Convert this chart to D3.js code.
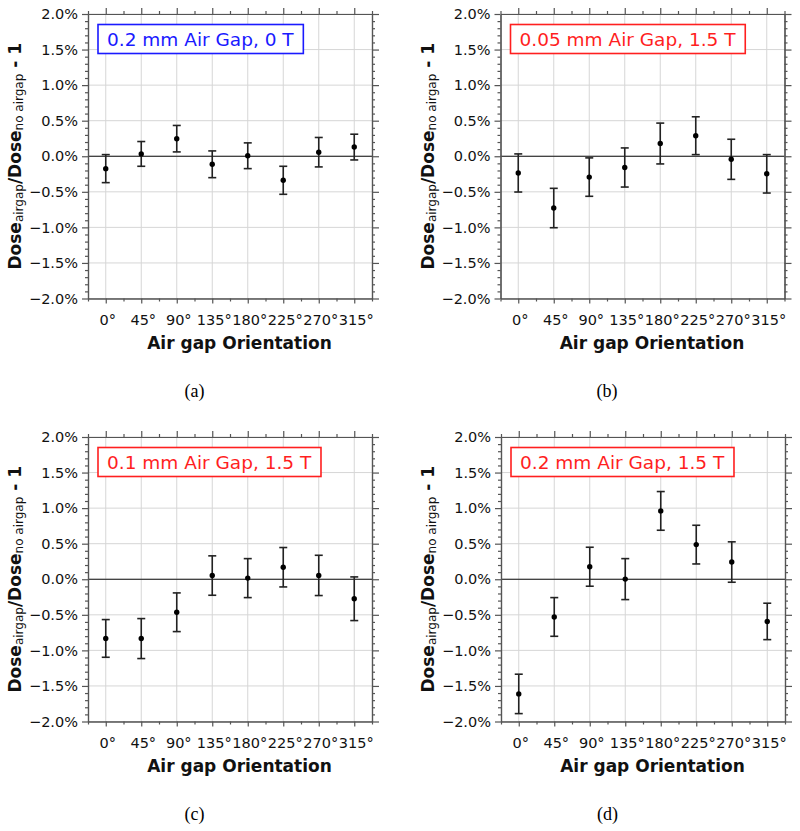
<!DOCTYPE html>
<html>
<head>
<meta charset="utf-8">
<script src="https://cdn.jsdelivr.net/npm/d3@7/dist/d3.min.js"></script>
<style>
  html, body { margin: 0; padding: 0; background: #fff; }
  svg { display: block; }
</style>
</head>
<body>
<svg id="chart" width="800" height="831"></svg>
<script>
// ---------- data (percent) ----------
const angles = [0, 45, 90, 135, 180, 225, 270, 315];
const angleLabels = ["0°", "45°", "90°", "135°", "180°", "225°", "270°", "315°"];
const yTickValues = [-2.0, -1.5, -1.0, -0.5, 0.0, 0.5, 1.0, 1.5, 2.0];

const valuesA = [-0.174, 0.033, 0.247, -0.113, 0.007, -0.338, 0.057, 0.129];
const errorsA = [0.197, 0.174, 0.186, 0.188, 0.181, 0.197, 0.207, 0.181];

const valuesB = [-0.235, -0.728, -0.293, -0.158, 0.179, 0.289, -0.043, -0.247];
const errorsB = [0.268, 0.277, 0.270, 0.275, 0.287, 0.266, 0.282, 0.270];

const valuesC = [-0.832, -0.834, -0.464, 0.052, 0.016, 0.169, 0.054, -0.274];
const errorsC = [0.265, 0.281, 0.272, 0.277, 0.274, 0.277, 0.283, 0.307];

const valuesD = [-1.612, -0.530, 0.176, 0.002, 0.961, 0.487, 0.242, -0.593];
const errorsD = [0.277, 0.272, 0.274, 0.288, 0.272, 0.272, 0.284, 0.256];

const panelTitles = ["0.2 mm Air Gap, 0 T", "0.05 mm Air Gap, 1.5 T", "0.1 mm Air Gap, 1.5 T", "0.2 mm Air Gap, 1.5 T"];
const panelCaptions = ["(a)", "(b)", "(c)", "(d)"];
const xTitle = "Air gap Orientation";

// ---------- layout ----------
const svg = d3.select("#chart");
svg.append("rect").attr("width", 800).attr("height", 831).attr("fill", "#fff");

const FONT = "'DejaVu Sans', Verdana, sans-serif";
const panels = [
  { left: 88,    top: 14,  values: valuesA, errors: errorsA, title: panelTitles[0], caption: panelCaptions[0], color: "#1a1aff" },
  { left: 500.5, top: 14,  values: valuesB, errors: errorsB, title: panelTitles[1], caption: panelCaptions[1], color: "#ff1f1f" },
  { left: 88,    top: 437, values: valuesC, errors: errorsC, title: panelTitles[2], caption: panelCaptions[2], color: "#ff1f1f" },
  { left: 501,   top: 437, values: valuesD, errors: errorsD, title: panelTitles[3], caption: panelCaptions[3], color: "#ff1f1f" }
];
const W = 284, H = 284.5;

const minorX = d3.range(-22.5, 338, 22.5).filter(v => !angles.includes(v));
const minorY = d3.range(-20, 21, 1).map(v => v / 10).filter(v => !yTickValues.some(t => Math.abs(t - v) < 1e-9));

function drawPanel(p) {
  const x = d3.scaleLinear().domain([-22.5, 337.5]).range([p.left, p.left + W]);
  const y = d3.scaleLinear().domain([-2, 2]).range([p.top + H, p.top]);
  const g = svg.append("g");

  // grid
  g.append("g").selectAll("line").data(angles).join("line")
    .attr("x1", d => x(d)).attr("x2", d => x(d))
    .attr("y1", p.top).attr("y2", p.top + H)
    .attr("stroke", "#d6d6d6").attr("stroke-width", 1);
  g.append("g").selectAll("line").data(yTickValues).join("line")
    .attr("x1", p.left).attr("x2", p.left + W)
    .attr("y1", d => y(d)).attr("y2", d => y(d))
    .attr("stroke", "#d6d6d6").attr("stroke-width", 1);

  // zero line
  g.append("line")
    .attr("x1", p.left).attr("x2", p.left + W)
    .attr("y1", y(0)).attr("y2", y(0))
    .attr("stroke", "#111").attr("stroke-width", 1);

  const axStyle = sel => {
    sel.select(".domain").attr("stroke", "#555").attr("stroke-width", 1.2);
    sel.selectAll(".tick line").attr("stroke", "#555").attr("stroke-width", 1.2);
  };

  // bottom axis
  const bottom = g.append("g").attr("transform", `translate(0,${p.top + H})`)
    .call(d3.axisBottom(x).tickValues(angles).tickSize(5).tickSizeOuter(0)
      .tickFormat((d, i) => angleLabels[i]).tickPadding(11));
  axStyle(bottom);
  bottom.selectAll("text").attr("font-family", FONT).attr("font-size", 14.5).attr("fill", "#111")
    .attr("dx", 1.5);
  const bottomMinor = g.append("g").attr("transform", `translate(0,${p.top + H})`)
    .call(d3.axisBottom(x).tickValues(minorX).tickSize(3).tickSizeOuter(0).tickFormat(""));
  axStyle(bottomMinor);

  // top axis
  const topAx = g.append("g").attr("transform", `translate(0,${p.top})`)
    .call(d3.axisTop(x).tickValues(angles).tickSize(6).tickSizeOuter(0).tickFormat(""));
  axStyle(topAx);
  const topMinor = g.append("g").attr("transform", `translate(0,${p.top})`)
    .call(d3.axisTop(x).tickValues(minorX).tickSize(3).tickSizeOuter(0).tickFormat(""));
  axStyle(topMinor);

  // left axis
  const fmt = d => (d < 0 ? "\u2212" : "") + Math.abs(d).toFixed(1) + "%";
  const leftAx = g.append("g").attr("transform", `translate(${p.left},0)`)
    .call(d3.axisLeft(y).tickValues(yTickValues).tickSize(6).tickSizeOuter(0).tickFormat(fmt).tickPadding(4));
  axStyle(leftAx);
  leftAx.selectAll("text").attr("font-family", FONT).attr("font-size", 14.5).attr("fill", "#111");
  const leftMinor = g.append("g").attr("transform", `translate(${p.left},0)`)
    .call(d3.axisLeft(y).tickValues(minorY).tickSize(3).tickSizeOuter(0).tickFormat(""));
  axStyle(leftMinor);

  // right axis
  const rightAx = g.append("g").attr("transform", `translate(${p.left + W},0)`)
    .call(d3.axisRight(y).tickValues(yTickValues).tickSize(7).tickSizeOuter(0).tickFormat(""));
  axStyle(rightAx);
  const rightMinor = g.append("g").attr("transform", `translate(${p.left + W},0)`)
    .call(d3.axisRight(y).tickValues(minorY).tickSize(3).tickSizeOuter(0).tickFormat(""));
  axStyle(rightMinor);

  // error bars
  const data = angles.map((a, i) => ({ a, v: p.values[i], e: p.errors[i] }));
  const eb = g.append("g").attr("stroke", "#222").attr("stroke-width", 1.6);
  eb.selectAll("line.v").data(data).join("line").attr("class", "v")
    .attr("x1", d => x(d.a)).attr("x2", d => x(d.a))
    .attr("y1", d => y(d.v + d.e)).attr("y2", d => y(d.v - d.e));
  eb.selectAll("line.t").data(data).join("line").attr("class", "t")
    .attr("x1", d => x(d.a) - 4).attr("x2", d => x(d.a) + 4)
    .attr("y1", d => y(d.v + d.e)).attr("y2", d => y(d.v + d.e));
  eb.selectAll("line.b").data(data).join("line").attr("class", "b")
    .attr("x1", d => x(d.a) - 4).attr("x2", d => x(d.a) + 4)
    .attr("y1", d => y(d.v - d.e)).attr("y2", d => y(d.v - d.e));
  g.append("g").selectAll("circle").data(data).join("circle")
    .attr("cx", d => x(d.a)).attr("cy", d => y(d.v)).attr("r", 2.7).attr("fill", "#000");

  // title box
  const tb = g.append("g");
  const txt = tb.append("text")
    .attr("x", p.left + 19).attr("y", p.top + 32)
    .attr("font-family", FONT).attr("font-size", 18.5).attr("fill", p.color)
    .text(p.title);
  const bb = txt.node().getBBox();
  tb.insert("rect", "text")
    .attr("x", bb.x - 9).attr("y", p.top + 10.5)
    .attr("width", bb.width + 18).attr("height", 29)
    .attr("fill", "#fff").attr("stroke", p.color).attr("stroke-width", 1.6);

  // x title
  g.append("text")
    .attr("x", p.left + 151.5).attr("y", p.top + H + 50)
    .attr("text-anchor", "middle")
    .attr("font-family", FONT).attr("font-weight", "bold").attr("font-size", 17)
    .attr("fill", "#111")
    .text(xTitle);

  // y title
  const yt = g.append("text")
    .attr("transform", `translate(${p.left - 67},${p.top + H / 2}) rotate(-90)`)
    .attr("text-anchor", "middle")
    .attr("font-family", FONT).attr("font-weight", "bold").attr("font-size", 17)
    .attr("fill", "#111");
  yt.append("tspan").text("Dose");
  yt.append("tspan").attr("font-size", 12).attr("font-weight", "normal").attr("dy", 2).text("airgap");
  yt.append("tspan").attr("dy", -2).text("/Dose");
  yt.append("tspan").attr("font-size", 12).attr("font-weight", "normal").attr("dy", 2).text("no airgap");
  yt.append("tspan").attr("dy", -2).text(" - 1");

  // caption
  g.append("text")
    .attr("x", p.left + 106.5).attr("y", p.top + H + 98)
    .attr("text-anchor", "middle")
    .attr("font-family", "'Liberation Serif', 'Times New Roman', serif").attr("font-size", 18)
    .attr("fill", "#000")
    .text(p.caption);
}

panels.forEach(drawPanel);
</script>
</body>
</html>
